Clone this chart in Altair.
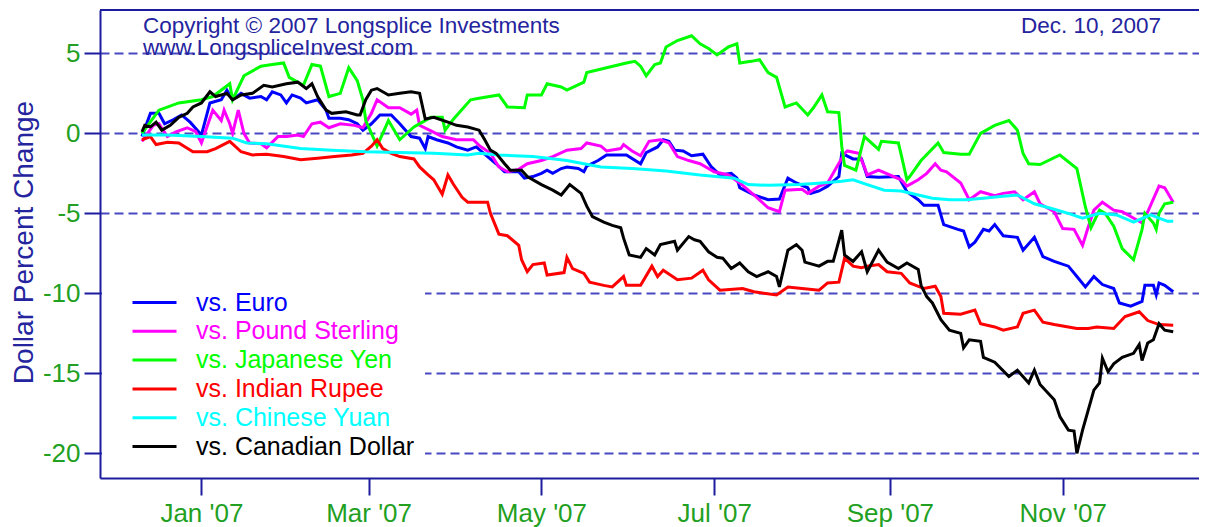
import json
import altair as alt
import pandas as pd

# ---------------- data (x = days since 2007-01-01, y = dollar % change) ----------------
SERIES = ["vs. Euro", "vs. Pound Sterling", "vs. Japanese Yen",
          "vs. Indian Rupee", "vs. Chinese Yuan", "vs. Canadian Dollar"]
COLORS = ["#0000FF", "#FF00FF", "#00FF00", "#FF0000", "#00FFFF", "#000000"]

euro_days = [-21, -18, -15, -13, -10, -7, -4, -2, 0, 3,
             7, 9, 11, 14, 17, 21, 23, 25, 28, 30,
             32, 35, 37, 41, 44, 45, 49, 52, 55, 57,
             60, 63, 67, 70, 74, 77, 79, 80, 83, 87,
             90, 94, 97, 101, 104, 107, 112, 114, 117, 120,
             122, 124, 127, 129, 133, 135, 136, 140, 143, 150,
             155, 157, 161, 163, 165, 167, 170, 173, 177, 180,
             183, 187, 189, 190, 195, 200, 204, 207, 210, 214,
             215, 218, 221, 225, 226, 230, 233, 235, 239, 246,
             249, 253, 255, 260, 262, 267, 269, 271, 273, 276,
             278, 280, 283, 288, 290, 294, 297, 301, 306, 309,
             312, 315, 318, 322, 324, 328, 332, 333, 336, 337,
             338, 340, 343]
euro_vals = [-0.2, 1.25, 1.25, 0.6, 0.85, 1.15, 0.7, 0.3, -0.1, 1.9,
             2.1, 2.7, 2.1, 2.5, 2.2, 2.3, 2.1, 2.6, 2.4, 1.9,
             2.4, 2.2, 1.9, 2.1, 1.45, 0.95, 0.95, 0.85, 0.6, 0.2,
             0.6, 1.15, 1.15, 0.6, -0.2, -0.3, -0.95, -0.2, -0.4, -0.6,
             -0.85, -1.05, -0.85, -1.45, -1.9, -2.4, -2.4, -2.8, -2.7, -2.5,
             -2.3, -2.5, -2.2, -2.1, -2.2, -2.4, -2.05, -1.7, -1.35, -1.35,
             -1.9, -1.2, -0.85, -0.4, -0.5, -1.05, -1.1, -1.4, -1.3, -2.1,
             -2.6, -2.5, -2.8, -3.4, -3.85, -4.15, -4.1, -2.8, -3.1, -3.4,
             -3.75, -3.6, -3.3, -2.7, -1.25, -1.6, -1.6, -2.7, -2.75, -2.7,
             -3.65, -4.15, -4.5, -4.5, -5.7, -6.0, -6.1, -7.1, -6.8, -6.0,
             -6.1, -5.7, -6.4, -6.5, -7.3, -6.5, -7.7, -8.0, -8.3, -8.95,
             -9.6, -8.95, -9.45, -9.7, -10.6, -10.8, -10.5, -9.5, -9.5, -10.1,
             -9.35, -9.5, -9.9]

pound_days = [-21, -17, -15, -12, -9, -5, -2, 0, 4, 7,
              8, 10, 11, 13, 15, 17, 21, 23, 27, 30,
              34, 36, 39, 42, 45, 49, 54, 57, 60, 62,
              66, 70, 74, 76, 77, 81, 85, 90, 96, 98,
              102, 105, 108, 112, 115, 120, 124, 129, 134, 136,
              141, 143, 148, 149, 152, 155, 158, 162, 165, 168,
              172, 176, 181, 186, 190, 196, 200, 204, 206, 212,
              214, 218, 221, 227, 228, 232, 234, 235, 239, 247,
              249, 253, 256, 259, 261, 263, 268, 271, 275, 280,
              283, 287, 290, 294, 296, 301, 304, 308, 311, 313,
              315, 318, 322, 325, 328, 332, 334, 338, 340, 343]
pound_vals = [-0.5, 0.5, 0.6, -0.2, 0.1, 0.35, 0.1, -0.6, 1.45, 0.8,
              1.45, 0.6, 0.0, 1.45, 0.0, -0.6, -0.65, -0.9, -0.2, -0.2,
              -0.1, -0.2, 0.6, 0.7, 0.35, 0.6, 0.5, 0.35, 1.25, 2.1,
              1.6, 1.6, 1.2, 1.45, 0.5, 0.15, -0.2, -0.4, -0.4, -0.75,
              -1.25, -2.1, -2.4, -2.25, -1.9, -1.7, -1.45, -1.05, -0.95, -0.6,
              -0.8, -1.1, -0.95, -0.7, -1.1, -1.4, -0.5, -0.4, -0.6, -1.45,
              -1.7, -1.9, -2.4, -2.6, -3.1, -4.0, -4.65, -4.9, -3.55, -3.5,
              -3.75, -3.3, -3.1, -1.25, -1.1, -1.25, -2.1, -2.6, -2.3, -2.9,
              -3.3, -2.9, -2.5, -1.9, -2.3, -2.4, -3.1, -4.15, -3.65, -3.9,
              -3.75, -3.65, -4.15, -3.65, -4.4, -4.9, -5.95, -6.0, -7.0, -5.85,
              -4.8, -4.3, -4.8, -4.9, -5.2, -5.6, -4.9, -3.3, -3.4, -4.3]

yen_days = [-21, -15, -8, 0, 4, 10, 11, 15, 21, 25,
            29, 31, 36, 39, 42, 45, 49, 52, 55, 57,
            58, 62, 64, 66, 70, 75, 81, 85, 86, 89,
            95, 98, 105, 108, 114, 115, 120, 122, 127, 129,
            135, 136, 143, 150, 153, 155, 157, 160, 162, 164,
            168, 173, 176, 179, 182, 186, 189, 190, 194, 197,
            200, 203, 206, 210, 214, 216, 219, 221, 225, 226,
            227, 231, 234, 239, 240, 246, 247, 249, 250, 254,
            260, 262, 268, 271, 275, 280, 285, 288, 290, 292,
            296, 303, 309, 312, 314, 317, 319, 322, 325, 329,
            332, 333, 336, 337, 338, 340, 343]
yen_vals = [0.0, 1.45, 1.9, 2.1, 2.3, 3.1, 2.1, 3.6, 4.2, 4.3,
            4.4, 3.5, 3.0, 4.3, 4.2, 2.3, 2.5, 4.1, 3.3, 2.1,
            0.8, -0.8, 0.0, 0.8, -0.4, 0.4, 1.0, 1.0, 0.2, 0.9,
            2.1, 2.2, 2.4, 1.65, 1.6, 2.4, 2.4, 3.1, 2.9, 2.7,
            3.2, 3.8, 4.1, 4.4, 4.5, 4.2, 3.6, 4.3, 4.4, 5.4,
            5.8, 6.1, 5.6, 5.3, 4.9, 5.4, 5.6, 4.4, 4.5, 4.6,
            3.8, 3.5, 1.65, 1.9, 1.15, 1.6, 2.4, 1.35, 1.3, -0.8,
            -2.0, -2.3, -0.2, -1.0, -0.5, -0.6, -1.35, -2.9, -2.7, -1.7,
            -0.6, -1.2, -1.3, -1.3, 0.0, 0.5, 0.8, 0.2, -1.25, -1.9,
            -1.95, -1.35, -2.2, -4.6, -5.9, -4.8, -5.0, -5.8, -7.2, -7.9,
            -6.0, -5.0, -5.6, -6.0, -5.0, -4.4, -4.3]

rupee_days = [-21, -18, -16, -12, -8, -3, 2, 5, 10, 14,
              18, 23, 29, 35, 41, 47, 53, 57, 60, 62,
              64, 67, 70, 75, 77, 80, 82, 85, 87, 89,
              92, 94, 101, 102, 105, 108, 112, 113, 115, 117,
              121, 122, 128, 129, 131, 135, 137, 142, 145, 149,
              150, 155, 159, 161, 163, 168, 173, 177, 179, 183,
              191, 195, 203, 207, 212, 218, 221, 225, 227, 230,
              233, 235, 239, 242, 247, 250, 255, 259, 261, 262,
              268, 273, 275, 280, 283, 288, 290, 294, 297, 301,
              306, 309, 313, 316, 322, 326, 331, 334, 338, 343]
rupee_vals = [-0.4, -0.2, -0.7, -0.55, -0.6, -1.15, -1.15, -0.95, -0.5, -1.15,
              -1.35, -1.3, -1.45, -1.65, -1.55, -1.45, -1.35, -1.25, -0.8, -0.4,
              -0.95, -1.25, -1.45, -1.6, -2.1, -2.6, -2.9, -3.8, -2.6, -3.2,
              -4.0, -4.3, -4.3, -5.0, -6.3, -6.4, -7.0, -7.9, -8.65, -8.2,
              -8.1, -8.85, -8.7, -7.75, -8.45, -8.75, -9.3, -9.5, -9.6, -8.95,
              -9.5, -9.5, -8.3, -8.95, -8.55, -9.15, -9.05, -8.55, -9.15, -9.8,
              -9.7, -9.9, -10.1, -9.6, -9.7, -9.8, -9.35, -9.3, -7.8, -8.3,
              -8.4, -8.3, -8.2, -8.65, -8.75, -9.35, -9.7, -9.55, -10.2, -11.25,
              -11.3, -11.05, -11.9, -12.1, -12.3, -12.1, -11.25, -11.05, -11.8, -11.95,
              -12.1, -12.2, -12.2, -12.1, -12.2, -11.45, -11.15, -11.7, -11.95, -12.0]

yuan_days = [-21, -12, 0, 11, 16, 23, 35, 46, 58, 70,
             82, 94, 98, 105, 117, 129, 135, 141, 152, 164,
             176, 188, 193, 200, 211, 219, 226, 230, 235, 241,
             247, 253, 258, 264, 270, 276, 282, 288, 294, 300,
             306, 311, 317, 323, 329, 335, 341, 343]
yuan_vals = [-0.1, -0.1, -0.2, -0.3, -0.6, -0.65, -0.95, -1.05, -1.15, -1.2,
             -1.25, -1.35, -1.25, -1.35, -1.45, -1.7, -1.9, -2.1, -2.2, -2.35,
             -2.6, -2.8, -3.2, -3.25, -3.2, -3.1, -3.0, -2.9, -3.2, -3.55,
             -3.6, -3.85, -4.05, -4.15, -4.15, -4.05, -3.95, -3.85, -4.4, -4.7,
             -5.0, -5.3, -5.0, -5.1, -5.55, -5.1, -5.5, -5.5]

cad_days = [-21, -20, -18, -16, -14, -11, -8, -5, -3, 0,
            3, 5, 9, 11, 14, 18, 22, 25, 30, 34,
            37, 39, 41, 44, 46, 51, 55, 56, 58, 60,
            62, 66, 70, 74, 77, 79, 82, 87, 90, 94,
            98, 100, 102, 104, 107, 109, 113, 115, 120, 124,
            127, 130, 134, 135, 136, 138, 142, 145, 148, 149,
            151, 155, 157, 160, 162, 167, 168, 172, 174, 176,
            179, 182, 184, 187, 190, 193, 196, 200, 203, 204,
            207, 210, 212, 213, 218, 221, 223, 226, 227, 230,
            233, 235, 239, 242, 246, 249, 253, 254, 256, 258,
            261, 264, 268, 269, 271, 275, 276, 280, 285, 288,
            292, 294, 296, 301, 303, 306, 308, 309, 311, 313,
            315, 317, 318, 320, 322, 325, 329, 331, 332, 334,
            336, 338, 340, 343]
cad_vals = [0.1, 0.5, 0.4, 0.7, 0.2, 0.5, 1.0, 1.25, 1.65, 1.9,
            2.6, 2.3, 2.5, 2.1, 2.4, 2.5, 3.0, 2.9, 3.1, 3.2,
            2.8, 3.1, 2.3, 1.45, 1.25, 1.35, 1.15, 1.15, 2.1, 2.7,
            2.8, 2.4, 2.5, 2.6, 2.5, 0.9, 1.0, 0.7, 0.5, 0.4,
            0.2, -0.4, -1.05, -1.25, -1.9, -2.3, -2.3, -2.7, -3.2, -3.55,
            -3.85, -3.2, -3.75, -4.15, -4.55, -5.2, -5.55, -5.75, -5.9, -6.55,
            -7.6, -7.75, -7.2, -7.6, -6.95, -6.75, -7.3, -6.45, -6.65, -6.75,
            -7.4, -7.75, -7.8, -8.45, -8.1, -8.65, -8.95, -8.65, -8.95, -9.6,
            -7.3, -6.95, -7.3, -8.05, -8.3, -8.0, -8.0, -6.05, -7.6, -8.0,
            -7.4, -8.65, -7.3, -8.05, -8.45, -8.1, -8.5, -9.5, -10.2, -10.6,
            -11.65, -12.3, -12.5, -13.4, -12.9, -13.0, -14.0, -14.3, -15.2, -14.8,
            -15.6, -14.8, -15.7, -16.65, -17.7, -18.55, -18.6, -20.0, -18.55, -17.3,
            -16.05, -15.6, -14.05, -14.9, -14.4, -14.0, -13.75, -13.2, -14.2, -13.1,
            -12.9, -11.9, -12.3, -12.4]

Y_TICKS = [-20, -15, -10, -5, 0, 5]
X_TICK_DAYS = [0, 59, 120, 181, 243, 304]
X_TICK_LABELS = ["Jan '07", "Mar '07", "May '07", "Jul '07", "Sep '07", "Nov '07"]
X_DOMAIN = [-35.8, 352.1]
Y_DOMAIN = [-21.54, 7.71]

COPYRIGHT = "Copyright \u00a9 2007 Longsplice Investments"
WEBSITE = "www.LongspliceInvest.com"
DATE_TXT = "Dec. 10, 2007"
Y_TITLE = "Dollar Percent Change"

# ---------------- build table ----------------
all_days = [euro_days, pound_days, yen_days, rupee_days, yuan_days, cad_days]
all_vals = [euro_vals, pound_vals, yen_vals, rupee_vals, yuan_vals, cad_vals]
rows = []
for name, ds, vs in zip(SERIES, all_days, all_vals):
    assert len(ds) == len(vs), name
    for d, v in zip(ds, vs):
        rows.append({"series": name, "day": d, "pct": v})
df = pd.DataFrame(rows)

# ---------------- style ----------------
FONT = "Liberation Sans"
AXIS_BLUE = "#1C1C9E"
TEXT_BLUE = "#24249E"
GRID_BLUE = "#4848C0"
LABEL_GREEN = "#22A022"
W, H = 1099, 468

x_label_expr = " : ".join(f"datum.value == {d} ? {json.dumps(l)}"
                          for d, l in zip(X_TICK_DAYS, X_TICK_LABELS)) + ' : ""'
y_label_expr = "(datum.value < 0 ? '-' : '') + abs(datum.value)"
color_expr = " : ".join(f"datum.label == {json.dumps(s)} ? {json.dumps(c)}"
                        for s, c in zip(SERIES, COLORS)) + ' : "black"'

x_enc = alt.X(
    "day:Q",
    scale=alt.Scale(domain=X_DOMAIN, nice=False, zero=False),
    axis=alt.Axis(values=X_TICK_DAYS, labelExpr=x_label_expr, title=None, grid=False,
                  domainColor=AXIS_BLUE, domainWidth=2, tickColor=AXIS_BLUE,
                  tickWidth=2, tickSize=17, labelColor=LABEL_GREEN, labelFont=FONT,
                  labelFontSize=26, labelPadding=5, labelFlush=False,
                  labelOverlap=False),
)
y_enc = alt.Y(
    "pct:Q",
    scale=alt.Scale(domain=Y_DOMAIN, nice=False, zero=False),
    axis=alt.Axis(values=Y_TICKS, labelExpr=y_label_expr, title=Y_TITLE,
                  titleColor=TEXT_BLUE, titleFont=FONT,
                  titleFontSize=28, titleFontWeight="normal", titleAngle=270,
                  titleX=-76, titleY=232, titleAlign="center", titleBaseline="middle",
                  grid=True, gridColor=GRID_BLUE, gridDash=[9, 5], gridWidth=2,
                  domainColor=AXIS_BLUE, domainWidth=2, tickColor=AXIS_BLUE,
                  tickWidth=2, tickSize=16, labelColor=LABEL_GREEN, labelFont=FONT,
                  labelFontSize=26, labelPadding=4, labelFlush=False,
                  labelOverlap=False),
)
color_enc = alt.Color(
    "series:N",
    sort=SERIES,
    scale=alt.Scale(domain=SERIES, range=COLORS),
    legend=alt.Legend(title=None, orient="none", legendX=2, legendY=270,
                      fillColor="white", padding=10, symbolType="M-2,0H2",
                      symbolStrokeWidth=3, symbolSize=484, symbolOffset=30,
                      labelOffset=29, labelFont=FONT, labelFontSize=25,
                      labelColor={"expr": color_expr}, rowPadding=2.8,
                      labelLimit=400),
)

lines = alt.Chart(df).mark_line(strokeWidth=3, clip=True).encode(
    x=x_enc, y=y_enc, color=color_enc
)

top_border = alt.Chart(pd.DataFrame({"pct": [Y_DOMAIN[1]]})).mark_rule(
    color=AXIS_BLUE, strokeWidth=2
).encode(y=alt.Y("pct:Q"))


def label(txt, px, py, align="left"):
    return alt.Chart(pd.DataFrame({"t": [txt]})).mark_text(
        font=FONT, fontSize=22.5, color=TEXT_BLUE, align=align, baseline="alphabetic"
    ).encode(text="t:N", x=alt.value(px), y=alt.value(py))


chart = alt.layer(
    top_border,
    lines,
    label(COPYRIGHT, 43, 23),
    label(WEBSITE, 43, 45),
    label(DATE_TXT, 1061, 23, align="right"),
).properties(
    width=W, height=H,
    padding={"left": 92, "top": 2, "right": 0, "bottom": 49},
    autosize=alt.AutoSizeParams(type="none"),
    background="white",
).configure_view(stroke="transparent")

chart.save("out.html", embed_options={"renderer": "svg", "actions": False})
